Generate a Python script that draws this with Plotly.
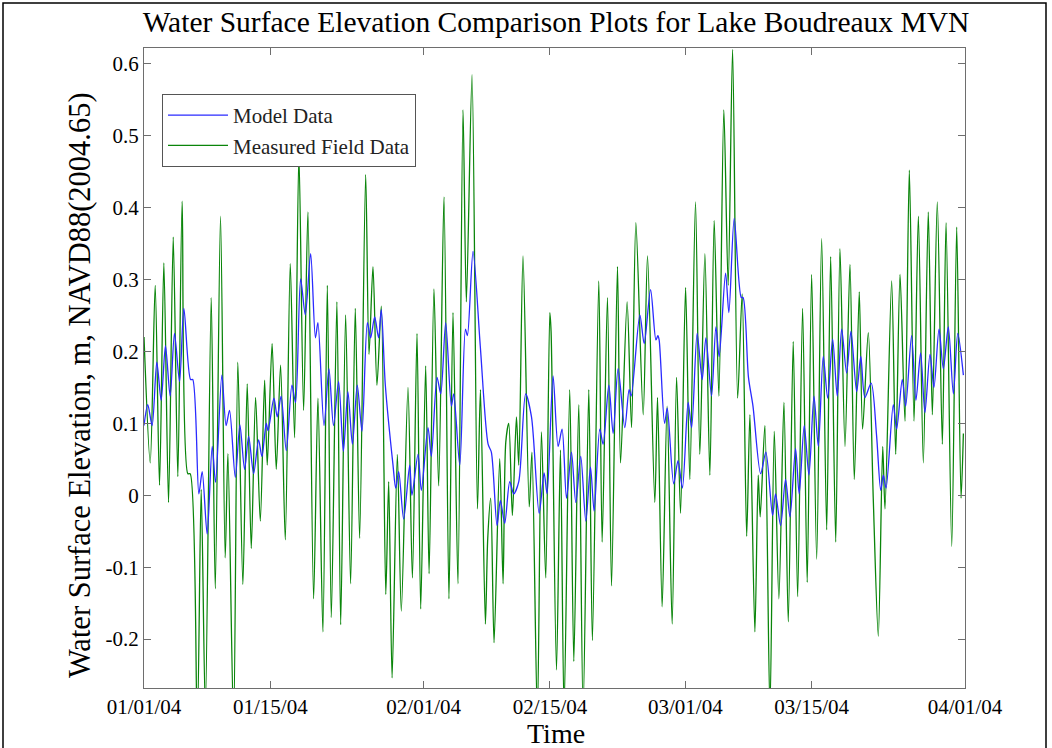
import pandas as pd
import plotly.graph_objects as go

# Measured field data: turning points, days after 01/01/04 and elevation (m)
field_days = [
    0.0, 0.69, 1.24, 1.72, 2.2, 2.72, 3.24, 3.75, 4.23, 4.86, 5.12, 5.9, 6.34, 6.8,
    7.45, 7.9, 8.48, 9.0, 9.3, 9.93, 10.4, 10.96, 11.44, 11.89, 12.37, 12.89, 13.37,
    13.66, 14.2, 14.66, 15.14, 15.66, 16.21, 16.69, 17.17, 17.69, 18.17, 18.8, 19.28,
    19.83, 20.32, 20.76, 21.38, 21.8, 22.35, 22.9, 23.42, 23.9, 24.57, 24.94, 25.38,
    25.82, 26.3, 26.8, 27.12, 27.5, 28.08, 28.52, 29.26, 29.75, 30.26, 30.67, 31.22,
    31.6, 32.14, 32.66, 33.25, 33.8, 34.25, 34.8, 35.36, 35.73, 36.36, 36.96, 37.29,
    37.84, 38.1, 38.43, 38.8, 39.43, 39.8, 40.1, 40.43, 40.83, 41.28, 41.54, 42.01,
    42.7, 43.0, 43.6, 44.05, 44.53, 44.98, 45.12, 45.72, 46.16, 46.56, 47.19, 47.64,
    48.19, 48.67, 49.3, 49.7, 50.41, 50.78, 51.37, 51.82, 52.48, 52.82, 53.55, 54.04,
    54.52, 55.33, 55.81, 56.62, 56.92, 57.43, 57.98, 58.54, 59.03, 59.47, 60.03, 60.5,
    61.13, 61.61, 62.17, 62.72, 63.2, 63.72, 64.27, 64.75, 65.24, 65.8, 66.3, 66.8,
    67.16, 67.71, 68.08, 68.3, 68.82, 69.38, 69.86, 70.37, 70.93, 71.41, 71.96, 72.45,
    73.0, 73.51, 74.0, 74.56, 75.11, 75.67, 76.11, 76.67, 77.14, 77.7, 78.25, 78.73,
    79.28, 79.65, 80.28, 80.83, 81.39, 81.88, 82.13, 82.87, 83.32, 83.8, 84.35, 84.83,
    85.35, 85.83, 86.38, 86.93, 87.38, 87.93, 88.49, 88.9, 89.53, 90.08, 90.56, 90.82,
]
field_level = [
    0.22, 0.045, 0.292, 0.014, 0.323, -0.010, 0.359, 0.026, 0.409, 0.03, 0.03, -0.32, 0.008, -0.30,
    0.275, -0.13, 0.388, -0.087, 0.058, -0.32, 0.185, -0.124, 0.155, -0.074, 0.136, -0.036, 0.160,
    0.042, 0.211, 0.036, 0.181, -0.062, 0.322, 0.08, 0.474, 0.118, 0.394, -0.144, 0.135,
    -0.19, 0.292, -0.17, 0.269, -0.18, 0.251, -0.123, 0.26, -0.06, 0.446, 0.196, 0.318,
    0.153, 0.263, -0.138, 0.019, -0.254, 0.057, -0.161, 0.15, -0.115, 0.225, -0.158, 0.18,
    -0.109, 0.287, 0.013, 0.415, -0.144, 0.254, -0.123, 0.536, 0.269, 0.585, -0.019, 0.147,
    -0.179, -0.06, -0.004, -0.205, 0.051, -0.123, 0.074, 0.10, -0.028, 0.109, 0.042, 0.333,
    -0.016, 0.06, -0.31, 0.088, -0.115, 0.254, 0.228, -0.243, 0.063, -0.30, 0.147, -0.231,
    0.126, -0.30, 0.147, -0.202, 0.298, -0.065, 0.275, -0.126, 0.318, 0.045, 0.269, 0.094,
    0.379, 0.112, 0.333, -0.01, 0.136, -0.155, 0.124, -0.179, 0.164, -0.025, 0.289, 0.022,
    0.408, 0.057, 0.336, 0.028, 0.382, 0.138, 0.536, 0.292, 0.62, 0.135, 0.28, -0.057,
    0.112, -0.19, 0.028, -0.03, 0.097, -0.30, 0.089, -0.144, 0.129, -0.176, 0.214, -0.141,
    0.26, -0.121, 0.307, -0.089, 0.357, -0.048, 0.332, -0.065, 0.343, 0.068, 0.321, 0.022,
    0.283, 0.092, 0.226, -0.004, -0.196, 0.068, -0.019, 0.298, 0.057, 0.307, 0.103, 0.452,
    0.103, 0.388, 0.045, 0.394, 0.112, 0.408, 0.071, 0.379, -0.071, 0.373, -0.004, 0.086,
]

# Model data: turning points, days after 01/01/04 and elevation (m)
model_days = [
    0.0, 0.42, 0.9, 1.42, 1.9, 2.38, 2.9, 3.38, 3.94, 4.42, 5.16, 5.4, 6.08, 6.45, 7.0,
    7.56, 7.93, 8.63, 9.1, 9.48, 10.12, 10.63, 11.15, 11.6, 12.15, 12.7, 13.07, 13.55,
    13.75, 14.4, 14.77, 15.2, 15.77, 16.4, 16.8, 17.36, 17.88, 18.47, 19.0, 19.28, 19.95,
    20.5, 21.0, 21.57, 22.1, 22.6, 23.1, 23.64, 24.16, 24.76, 25.12, 25.57, 26.0, 26.3,
    26.75, 27.6, 27.9, 28.23, 28.78, 29.45, 29.7, 30.37, 30.74, 31.48, 31.85, 32.48,
    32.89, 33.44, 34.07, 34.33, 35.0, 35.63, 35.85, 36.47, 37.27, 38.14, 38.5, 39.13,
    39.5, 39.98, 40.54, 40.98, 41.54, 42.3, 42.95, 43.8, 44.35, 44.68, 45.34, 45.9,
    46.34, 46.83, 47.38, 47.86, 48.41, 48.97, 49.49, 49.89, 50.52, 50.89, 51.52, 52.0,
    52.55, 53.29, 53.77, 54.0, 54.96, 55.44, 56.15, 56.74, 56.96, 57.1, 57.7, 58.0,
    58.71, 59.19, 59.68, 60.31, 60.7, 61.31, 61.87, 62.28, 62.91, 63.39, 63.75, 64.46,
    64.83, 65.42, 66.2, 66.4, 67.0, 67.5, 68.35, 68.93, 69.67, 70.0, 70.56, 71.11, 71.6,
    72.22, 72.62, 73.18, 73.7, 74.26, 74.74, 75.29, 75.78, 76.33, 76.84, 77.33, 77.88,
    78.36, 78.99, 79.45, 79.9, 80.6, 81.2, 81.66, 81.95, 82.25, 83.05, 83.42, 84.05,
    84.42, 85.08, 85.56, 86.08, 86.56, 87.12, 87.56, 88.12, 88.6, 89.15, 89.71, 90.2,
    90.82,
]
model_level = [
    0.097, 0.126, 0.097, 0.185, 0.132, 0.208, 0.138, 0.225, 0.158, 0.26, 0.161, 0.161, 0.002, 0.033, -0.054,
    0.068, 0.018, 0.167, 0.097, 0.118, 0.025, 0.098, 0.036, 0.082, 0.03, 0.077, 0.054, 0.1,
    0.09, 0.135, 0.109, 0.138, 0.062, 0.153, 0.129, 0.301, 0.251, 0.336, 0.219, 0.24, 0.097,
    0.176, 0.097, 0.158, 0.061, 0.144, 0.071, 0.153, 0.089, 0.24, 0.219, 0.248, 0.219, 0.258,
    0.153, 0.042, 0.01, 0.033, -0.033, 0.042, 0.0, 0.057, 0.007, 0.094, 0.054, 0.164,
    0.141, 0.24, 0.124, 0.141, 0.042, 0.231, 0.222, 0.339, 0.208, 0.071, 0.06, -0.042,
    -0.007, -0.039, 0.019, 0.002, 0.019, 0.141, 0.109, -0.025, 0.031, 0.002, 0.166, 0.068,
    0.092, -0.004, 0.06, -0.01, 0.054, -0.036, 0.039, -0.022, 0.092, 0.071, 0.153, 0.086,
    0.176, 0.094, 0.147, 0.138, 0.251, 0.211, 0.286, 0.216, 0.222, 0.216, 0.1, 0.121,
    0.016, 0.048, 0.01, 0.129, 0.094, 0.225, 0.161, 0.219, 0.138, 0.234, 0.193, 0.309,
    0.254, 0.385, 0.275, 0.275, 0.164, 0.124, 0.03, 0.06, -0.028, 0.002, -0.042, 0.022, -0.03,
    0.065, 0.002, 0.097, 0.028, 0.138, 0.068, 0.193, 0.135, 0.217, 0.138, 0.231, 0.17,
    0.228, 0.144, 0.193, 0.136, 0.156, 0.083, 0.007, 0.028, 0.01, 0.126, 0.092, 0.161,
    0.124, 0.222, 0.132, 0.198, 0.115, 0.196, 0.15, 0.231, 0.176, 0.234, 0.141, 0.225,
    0.167,
]

tick_dates = ["2004-01-01", "2004-01-15", "2004-02-01", "2004-02-15",
              "2004-03-01", "2004-03-15", "2004-04-01"]
tick_labels = ["01/01/04", "01/15/04", "02/01/04", "02/15/04",
               "03/01/04", "03/15/04", "04/01/04"]
y_ticks = [-0.2, -0.1, 0.0, 0.1, 0.2, 0.3, 0.4, 0.5, 0.6]
y_tick_labels = ["-0.2", "-0.1", "0", "0.1", "0.2", "0.3", "0.4", "0.5", "0.6"]

start = pd.Timestamp("2004-01-01")
field_time = start + pd.to_timedelta(field_days, unit="D")
model_time = start + pd.to_timedelta(model_days, unit="D")

FONT = "Liberation Serif"
W, H = 1052, 748
L, R, T, B = 144, 965, 48, 688  # plot area in pixels


def px_x(p):
    return (p - L) / (R - L)


def px_y(p):
    return (B - p) / (B - T)


fig = go.Figure()
fig.add_trace(go.Scatter(
    x=field_time, y=field_level, mode="lines", name="Measured Field Data",
    line=dict(color="#0a850a", width=1.3, shape="spline", smoothing=0.8),
    legendrank=2,
))
fig.add_trace(go.Scatter(
    x=model_time, y=model_level, mode="lines", name="Model Data",
    line=dict(color="#2a2aff", width=1.3, shape="spline", smoothing=0.8),
    legendrank=1,
))

axis_common = dict(
    showline=True, linecolor="#6e6e6e", linewidth=1, mirror="ticks",
    ticks="inside", ticklen=7, tickcolor="#6e6e6e", showgrid=False, zeroline=False,
    tickfont=dict(family=FONT, size=21, color="black"),
)

fig.update_layout(
    width=W, height=H,
    margin=dict(l=L, r=W - R, t=T, b=H - B),
    paper_bgcolor="white", plot_bgcolor="white",
    font=dict(family=FONT, color="black"),
    title=dict(
        text="Water Surface Elevation Comparison Plots for Lake Boudreaux MVN",
        x=px_x(556), xref="paper", xanchor="center",
        y=1 - 22 / H, yref="container", yanchor="middle",
        font=dict(family=FONT, size=29.5, color="black"),
    ),
    xaxis=dict(range=[start, pd.Timestamp("2004-04-01")], tickvals=pd.to_datetime(tick_dates),
               ticktext=tick_labels, **axis_common),
    yaxis=dict(range=[-0.268, 0.622], tickvals=y_ticks, ticktext=y_tick_labels, **axis_common),
    legend=dict(
        x=px_x(162), y=px_y(94), xanchor="left", yanchor="top",
        bgcolor="white", bordercolor="#555555", borderwidth=1,
        font=dict(family=FONT, size=21, color="#222222"),
        itemwidth=60, tracegroupgap=0,
    ),
    showlegend=True,
)

fig.add_annotation(
    text="Water Surface Elevation, m, NAVD88(2004.65)", textangle=-90,
    xref="paper", yref="paper", x=px_x(80), y=px_y(385),
    xanchor="center", yanchor="middle", showarrow=False,
    font=dict(family=FONT, size=30.5, color="black"),
)
fig.add_annotation(
    text="Time", xref="paper", yref="paper", x=px_x(556), y=px_y(733),
    xanchor="center", yanchor="middle", showarrow=False,
    font=dict(family=FONT, size=28, color="black"),
)

# thin frame around the whole figure
fig.add_shape(
    type="rect", xref="paper", yref="paper",
    x0=px_x(3), x1=px_x(1046), y0=px_y(760), y1=px_y(3),
    line=dict(color="black", width=1.5), layer="below",
)

fig.write_html("out.html")
